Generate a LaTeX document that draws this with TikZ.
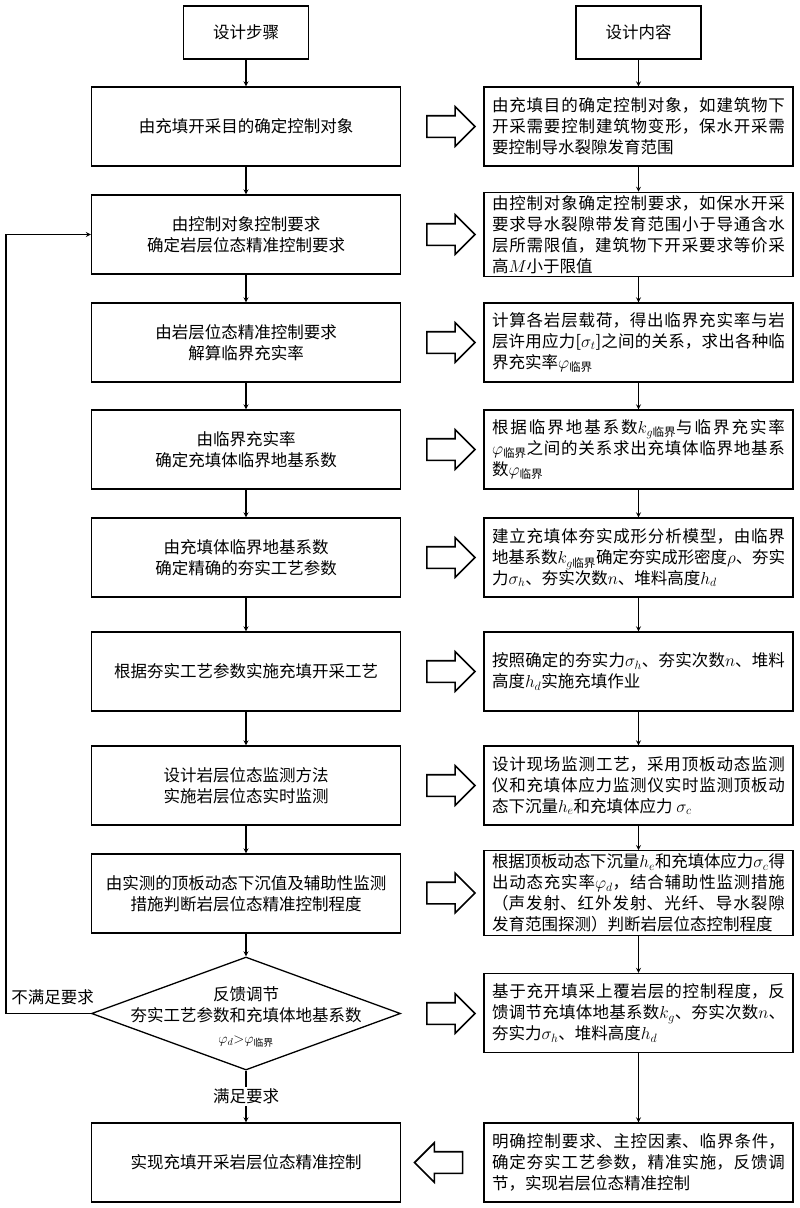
\documentclass[tikz,border=0pt]{standalone}
\usepackage{amsmath}
\usepackage{fontspec}
\setmainfont{Liberation Serif}
\newfontfamily\cjk{Noto Sans CJK SC}
\usetikzlibrary{shapes.geometric,shapes.arrows}
\XeTeXlinebreaklocale "zh"
\XeTeXlinebreakskip=0pt plus 2pt minus 1pt

\begin{document}
\begin{tikzpicture}[x=1pt, y=-1pt,
    every node/.style={font=\cjk\fontsize{16.5}{21}\selectfont},
    headbox/.style={draw, line width=1.3pt, minimum width=125pt, minimum height=53pt},
    stepbox/.style={draw, line width=1.3pt, minimum width=309pt, minimum height=79pt, align=center},
    infobox/.style={draw, line width=1.3pt, text width=293pt, inner xsep=8pt, inner ysep=3pt, minimum height=79pt, align=justify},
    bigarrow/.style={single arrow, draw, line width=1.6pt, minimum height=48pt, minimum width=38pt, inner xsep=0pt, inner ysep=10pt, single arrow head extend=9pt},
    flow/.style={->, >=stealth, line width=1.2pt}]
            \useasboundingbox (0,0) rectangle (800,1208);

            \node[headbox] (h1) at (246,32.5) {设计步骤};
            \node[headbox] (h2) at (638.5,32.5) {设计内容};

            % design steps
            \node[stepbox] (s1) at (246,126.5) {由充填开采目的确定控制对象};
            \node[stepbox] (s2) at (246,234.5) {由控制对象控制要求\\确定岩层位态精准控制要求};
            \node[stepbox] (s3) at (246,342.5) {由岩层位态精准控制要求\\解算临界充实率};
            \node[stepbox] (s4) at (246,449.5) {由临界充实率\\确定充填体临界地基系数};
            \node[stepbox] (s5) at (246,557.5) {由充填体临界地基系数\\确定精确的夯实工艺参数};
            \node[stepbox] (s6) at (246,671.5) {根据夯实工艺参数实施充填开采工艺};
            \node[stepbox] (s7) at (246,785.5) {设计岩层位态监测方法\\实施岩层位态实时监测};
            \node[stepbox] (s8) at (246,893.5) {由实测的顶板动态下沉值及辅助性监测\\措施判断岩层位态精准控制程度};
            \node[diamond, draw, line width=1.3pt, minimum width=309pt, minimum height=113pt, inner sep=0pt] (s9) at (246,1013.5) {};
            \node[align=center] (s9t) at (246,1017) {反馈调节\\夯实工艺参数和充填体地基系数\\[1pt]{\fontsize{14}{16}\selectfont $\varphi_d{>}\varphi_{\text{临界}}$}};
            \node[stepbox] (s10) at (246,1162.5) {实现充填开采岩层位态精准控制};

            % design contents
            \node[infobox] (c1) at (638.5,126.5) {由充填目的确定控制对象，如建筑物下\linebreak 开采需要控制建筑物变形，保水开采需\linebreak 要控制导水裂隙发育范围};
            \node[infobox] (c2) at (638.5,234.5) {由控制对象确定控制要求，如保水开采\linebreak 要求导水裂隙带发育范围小于导通含水\linebreak 层所需限值，建筑物下开采要求等价采\linebreak 高$M$小于限值};
            \node[infobox] (c3) at (638.5,342.5) {计算各岩层载荷，得出临界充实率与岩\linebreak 层许用应力[$\sigma_t$]之间的关系，求出各种临\linebreak 界充实率$\varphi_{\text{临界}}$};
            \node[infobox] (c4) at (638.5,449.5) {根据临界地基系数$k_{g\text{临界}}$与临界充实率\linebreak $\varphi_{\text{临界}}$之间的关系求出充填体临界地基系\linebreak 数$\varphi_{\text{临界}}$};
            \node[infobox] (c5) at (638.5,557.5) {建立充填体夯实成形分析模型，由临界\linebreak 地基系数$k_{g\text{临界}}$确定夯实成形密度$\rho$、夯实\linebreak 力$\sigma_h$、夯实次数$n$、堆料高度$h_d$};
            \node[infobox] (c6) at (638.5,671.5) {按照确定的夯实力$\sigma_h$、夯实次数$n$、堆料\linebreak 高度$h_d$实施充填作业};
            \node[infobox] (c7) at (638.5,785.5) {设计现场监测工艺，采用顶板动态监测\linebreak 仪和充填体应力监测仪实时监测顶板动\linebreak 态下沉量$h_e$和充填体应力 $\sigma_c$};
            \node[infobox] (c8) at (638.5,893) {根据顶板动态下沉量$h_e$和充填体应力$\sigma_c$得\linebreak 出动态充实率$\varphi_d$，结合辅助性监测措施\linebreak （声发射、红外发射、光纤、导水裂隙\linebreak 发育范围探测）判断岩层位态控制程度};
            \node[infobox] (c9) at (638.5,1013) {基于充开填采上覆岩层的控制程度，反\linebreak 馈调节充填体地基系数$k_g$、夯实次数$n$、\linebreak 夯实力$\sigma_h$、堆料高度$h_d$};
            \node[infobox] (c10) at (638.5,1162.5) {明确控制要求、主控因素、临界条件，\linebreak 确定夯实工艺参数，精准实施，反馈调\linebreak 节，实现岩层位态精准控制};

            % hollow arrows between the columns
            \node[bigarrow] (b1) at (445.5,126.5) {};
            \node[bigarrow] (b2) at (445.5,234.5) {};
            \node[bigarrow] (b3) at (445.5,342.5) {};
            \node[bigarrow] (b4) at (445.5,449.5) {};
            \node[bigarrow] (b5) at (445.5,557.5) {};
            \node[bigarrow] (b6) at (445.5,671.5) {};
            \node[bigarrow] (b7) at (445.5,785.5) {};
            \node[bigarrow] (b8) at (445.5,893) {};
            \node[bigarrow] (b9) at (445.5,1013.5) {};
            \node[bigarrow, shape border rotate=180] (b10) at (444,1162.5) {};

            \draw[flow] (h1) -- (s1);
            \draw[flow] (s1) -- (s2);
            \draw[flow] (s2) -- (s3);
            \draw[flow] (s3) -- (s4);
            \draw[flow] (s4) -- (s5);
            \draw[flow] (s5) -- (s6);
            \draw[flow] (s6) -- (s7);
            \draw[flow] (s7) -- (s8);
            \draw[flow] (s8) -- (s9);
            \draw[flow] (s9) -- node[fill=white, inner sep=2pt] {满足要求} (s10);

            \coordinate (fb) at (6,1013.5);
            \draw[flow] (s9.west) -- node[above=5pt, pos=0.45] {不满足要求} (fb) |- (s2.west);

            \draw[flow] (h2) -- (c1);
            \draw[flow] (c1) -- (c2);
            \draw[flow] (c2) -- (c3);
            \draw[flow] (c3) -- (c4);
            \draw[flow] (c4) -- (c5);
            \draw[flow] (c5) -- (c6);
            \draw[flow] (c6) -- (c7);
            \draw[flow] (c7) -- (c8);
            \draw[flow] (c8) -- (c9);
            \draw[flow] (c9) -- (c10);
        \end{tikzpicture}
\end{document}
